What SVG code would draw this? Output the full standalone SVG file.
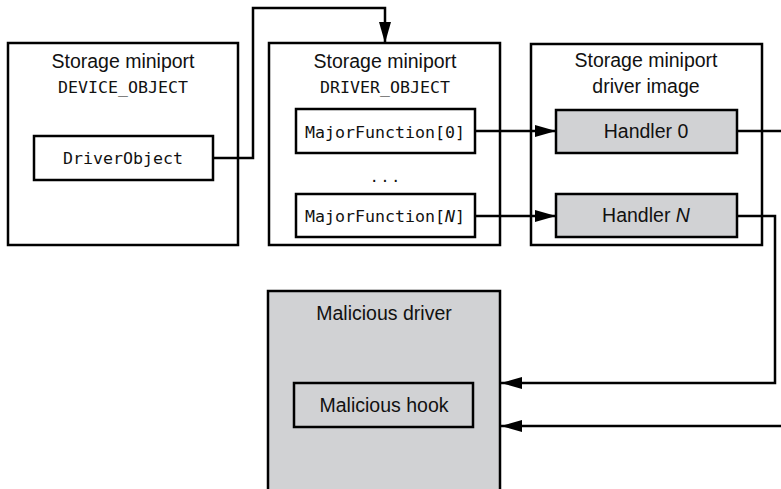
<svg xmlns="http://www.w3.org/2000/svg" width="781" height="489" viewBox="0 0 781 489">
<defs>
<marker id="ah" viewBox="0 0 21 12" refX="21" refY="6" markerWidth="21" markerHeight="12" markerUnits="userSpaceOnUse" orient="auto">
<path d="M0,0 L21,6 L0,12 z" fill="#000"/>
</marker>
<style>
.box{fill:#fff;stroke:#000;stroke-width:2.5}
.gray{fill:#d1d2d4;stroke:#000;stroke-width:2.5}
.sans{font-family:"Liberation Sans",Arial,sans-serif;font-size:19.5px;text-anchor:middle;fill:#111}
.mono{font-family:"DejaVu Sans Mono",monospace;font-size:16.6px;text-anchor:middle;fill:#111}
.conn{fill:none;stroke:#000;stroke-width:2.5}
</style>
</defs>
<rect width="781" height="489" fill="#fff"/>
<g id="device-object">
<rect class="box" x="8" y="43" width="230" height="202"/>
<text class="sans" x="123" y="68">Storage miniport</text>
<text class="mono" x="123" y="93">DEVICE_OBJECT</text>
<g id="driverobject-field">
<rect class="box" x="34" y="136" width="179" height="44"/>
<text class="mono" x="123" y="164">DriverObject</text>
</g>
</g>
<g id="driver-object">
<rect class="box" x="269" y="43" width="231" height="202"/>
<text class="sans" x="385" y="68">Storage miniport</text>
<text class="mono" x="385" y="93">DRIVER_OBJECT</text>
<g id="mf0">
<rect class="box" x="296" y="109" width="179" height="44"/>
<text class="mono" x="385" y="138">MajorFunction[0]</text>
</g>
<text class="sans" x="385" y="182">. . .</text>
<g id="mfn">
<rect class="box" x="296" y="194" width="179" height="43"/>
<text class="mono" x="385" y="222">MajorFunction[<tspan font-style="italic">N</tspan>]</text>
</g>
</g>
<g id="driver-image">
<rect class="box" x="531" y="44" width="231" height="201"/>
<text class="sans" x="646" y="67">Storage miniport</text>
<text class="sans" x="646" y="93">driver image</text>
<g id="handler0">
<rect class="gray" x="556" y="110" width="181" height="43"/>
<text class="sans" x="646" y="138">Handler 0</text>
</g>
<g id="handlern">
<rect class="gray" x="556" y="194" width="181" height="43"/>
<text class="sans" x="646" y="222">Handler <tspan font-style="italic">N</tspan></text>
</g>
</g>
<g id="malicious-driver">
<rect class="gray" x="268" y="291" width="232" height="210"/>
<text class="sans" x="384" y="320">Malicious driver</text>
<g id="malicious-hook">
<rect class="gray" x="294" y="383" width="179" height="44"/>
<text class="sans" x="384" y="412">Malicious hook</text>
</g>
</g>
<g id="connectors">
<path class="conn" d="M213,158 H253 V8 H385 V43" marker-end="url(#ah)"/>
<path class="conn" d="M475,131 H556" marker-end="url(#ah)"/>
<path class="conn" d="M475,216 H556" marker-end="url(#ah)"/>
<path class="conn" d="M737,131 H781"/>
<path class="conn" d="M737,216 H775 V383 H501" marker-end="url(#ah)"/>
<path class="conn" d="M781,426 H501" marker-end="url(#ah)"/>
</g>
</svg>
